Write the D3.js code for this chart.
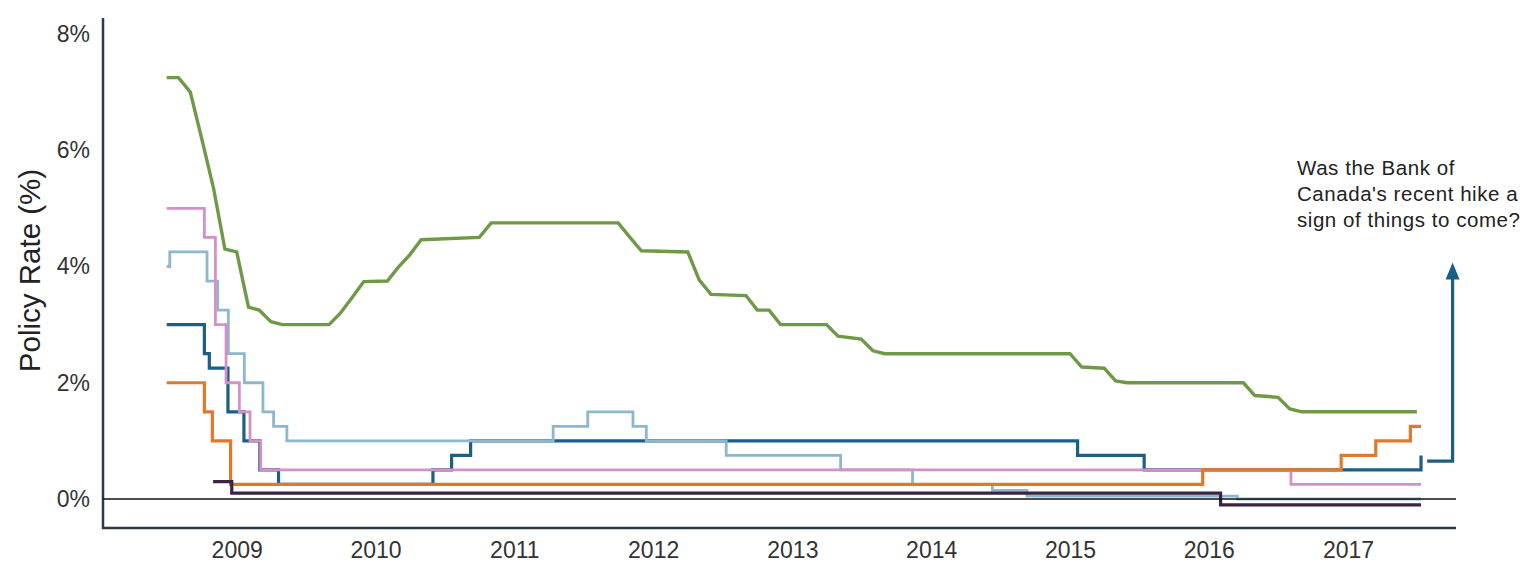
<!DOCTYPE html>
<html>
<head>
<meta charset="utf-8">
<script src="https://cdn.jsdelivr.net/npm/d3@7"></script>
<style>
  body { margin: 0; background: #fff; }
  svg { display: block; font-family: "Liberation Sans", Arial, sans-serif; }
</style>
</head>
<body>
<div id="chart"></div>
<script>
// tick labels
let years = [2009, 2010, 2011, 2012, 2013, 2014, 2015, 2016, 2017];
let rateTicks = [0, 2, 4, 6, 8];

// policy rates, [date of change, rate]; last entry closes the line
let australia = [ // monthly points, drawn straight between them
    ["2008-07-01", 7.25], ["2008-08-01", 7.25], ["2008-09-01", 7.0], ["2008-10-01", 6.2],
    ["2008-11-01", 5.35], ["2008-12-01", 4.3], ["2009-01-01", 4.25], ["2009-02-01", 3.3],
    ["2009-03-01", 3.25], ["2009-04-01", 3.05], ["2009-05-01", 3.0], ["2009-09-01", 3.0],
    ["2009-10-01", 3.2], ["2009-11-01", 3.47], ["2009-12-01", 3.74], ["2010-02-01", 3.75],
    ["2010-03-01", 3.98], ["2010-04-01", 4.2], ["2010-05-01", 4.46], ["2010-10-01", 4.5],
    ["2010-11-01", 4.75], ["2011-10-01", 4.75], ["2011-11-01", 4.5], ["2011-12-01", 4.27],
    ["2012-04-01", 4.25], ["2012-05-01", 3.77], ["2012-06-01", 3.52], ["2012-09-01", 3.5],
    ["2012-10-01", 3.25], ["2012-11-01", 3.25], ["2012-12-01", 3.0], ["2013-04-01", 3.0],
    ["2013-05-01", 2.8], ["2013-07-01", 2.75], ["2013-08-01", 2.55], ["2013-09-01", 2.5],
    ["2015-01-01", 2.5], ["2015-02-01", 2.27], ["2015-04-01", 2.25], ["2015-05-01", 2.03],
    ["2015-06-01", 2.0], ["2016-04-01", 2.0], ["2016-05-01", 1.78], ["2016-07-01", 1.75],
    ["2016-08-01", 1.55], ["2016-09-01", 1.5], ["2017-07-01", 1.5]
];
let canada = [
    ["2008-07-01", 3.0], ["2008-10-08", 2.5], ["2008-10-21", 2.25], ["2008-12-09", 1.5],
    ["2009-01-20", 1.0], ["2009-03-03", 0.5], ["2009-04-21", 0.25], ["2010-06-01", 0.5],
    ["2010-07-20", 0.75], ["2010-09-08", 1.0], ["2015-01-21", 0.75], ["2015-07-15", 0.5],
    ["2017-07-12", 0.75]
];
let ecb = [
    ["2008-07-01", 4.0], ["2008-07-09", 4.25], ["2008-10-15", 3.75], ["2008-11-12", 3.25],
    ["2008-12-10", 2.5], ["2009-01-21", 2.0], ["2009-03-11", 1.5], ["2009-04-08", 1.25],
    ["2009-05-13", 1.0], ["2011-04-13", 1.25], ["2011-07-13", 1.5], ["2011-11-09", 1.25],
    ["2011-12-14", 1.0], ["2012-07-11", 0.75], ["2013-05-08", 0.5], ["2013-11-13", 0.25],
    ["2014-06-11", 0.15], ["2014-09-10", 0.05], ["2016-03-16", 0.0], ["2017-07-12", 0.0]
];
let uk = [
    ["2008-07-01", 5.0], ["2008-10-08", 4.5], ["2008-11-06", 3.0], ["2008-12-04", 2.0],
    ["2009-01-08", 1.5], ["2009-02-05", 1.0], ["2009-03-05", 0.5], ["2016-08-04", 0.25],
    ["2017-07-12", 0.25]
];
let us = [
    ["2008-07-01", 2.0], ["2008-10-08", 1.5], ["2008-10-29", 1.0], ["2008-12-16", 0.25],
    ["2015-12-16", 0.5], ["2016-12-14", 0.75], ["2017-03-15", 1.0], ["2017-06-14", 1.25],
    ["2017-07-12", 1.25]
];
let japan = [
    ["2008-10-31", 0.3], ["2008-12-19", 0.1], ["2016-02-01", -0.1], ["2017-07-12", -0.1]
];

// annotation
let noteLines = ["Was the Bank of", "Canada's recent hike a", "sign of things to come?"];
let arrowFrom = "2017-07-28", arrowAt = "2017-10-03", arrowLow = 0.65, arrowHigh = 4.07;

let parse = d3.timeParse("%Y-%m-%d");

let width = 1525, height = 566;
let left = 103, bottom = 528, right = 1456;

let x = d3.scaleTime()
    .domain([new Date(2009, 0, 1), new Date(2017, 0, 1)])
    .range([236.7, 1348]);

let y = d3.scaleLinear()
    .domain([0, 8])
    .range([499, 34]);

let svg = d3.select("#chart")
    .append("svg")
    .attr("width", width)
    .attr("height", height)
    .attr("viewBox", [0, 0, width, height]);

// axes (no ticks, just labels)
let yAxis = svg.append("g")
    .attr("transform", `translate(${left},0)`)
    .call(d3.axisLeft(y).tickValues(rateTicks).tickFormat(d => d + "%").tickSize(0).tickPadding(13));
yAxis.select(".domain").remove();
yAxis.selectAll("text")
    .attr("font-size", 23)
    .attr("font-family", "Liberation Sans, Arial, sans-serif")
    .attr("fill", "#333");

let xAxis = svg.append("g")
    .attr("transform", `translate(0,${bottom})`)
    .call(d3.axisBottom(x).tickValues(years.map(d => new Date(d, 0, 1))).tickFormat(d3.timeFormat("%Y")).tickSize(0).tickPadding(14));
xAxis.select(".domain").remove();
xAxis.selectAll("text")
    .attr("font-size", 23)
    .attr("font-family", "Liberation Sans, Arial, sans-serif")
    .attr("fill", "#333");

svg.append("text")
    .attr("transform", `translate(40,${(y(8) + y(0)) / 2 + 4}) rotate(-90)`)
    .attr("text-anchor", "middle")
    .attr("font-size", 29.5)
    .attr("fill", "#222")
    .text("Policy Rate (%)");

// frame lines
svg.append("line")
    .attr("x1", left).attr("x2", left)
    .attr("y1", 18).attr("y2", bottom + 1)
    .attr("stroke", "#2c3b44").attr("stroke-width", 2.5);
svg.append("line")
    .attr("x1", left - 1).attr("x2", right)
    .attr("y1", bottom).attr("y2", bottom)
    .attr("stroke", "#2c3b44").attr("stroke-width", 2.5);

let step = d3.line()
    .x(d => x(parse(d[0])))
    .y(d => y(d[1]))
    .curve(d3.curveStepAfter);

let straight = d3.line()
    .x(d => x(parse(d[0])))
    .y(d => y(d[1]));

let series = [
    { data: canada, color: "#1b5e86", width: 3.2, line: step },
    { data: ecb, color: "#8db6cf", width: 2.8, line: step },
    { data: uk, color: "#d690c9", width: 2.8, line: step },
    { data: us, color: "#e1782b", width: 3.2, line: step },
    { data: japan, color: "#3b2342", width: 3.2, line: step },
    { data: australia, color: "#6e9a48", width: 3.4, line: straight }
];

svg.append("g")
    .attr("fill", "none")
    .attr("stroke-linejoin", "miter")
    .selectAll("path")
    .data(series)
    .join("path")
    .attr("stroke", d => d.color)
    .attr("stroke-width", d => d.width)
    .attr("d", d => d.line(d.data));

// zero line
svg.append("line")
    .attr("x1", left).attr("x2", right)
    .attr("y1", y(0)).attr("y2", y(0))
    .attr("stroke", "#111").attr("stroke-width", 1.6);

// arrow
let ax = x(parse(arrowAt));
svg.append("path")
    .attr("fill", "none")
    .attr("stroke", "#1b5e86")
    .attr("stroke-width", 3.2)
    .attr("d", d3.line()([
        [x(parse(arrowFrom)), y(arrowLow)],
        [ax, y(arrowLow)],
        [ax, y(arrowHigh) + 14]
    ]));
svg.append("path")
    .attr("fill", "#1b5e86")
    .attr("d", `M${ax},${y(arrowHigh)} L${ax + 7},${y(arrowHigh) + 17} L${ax - 7},${y(arrowHigh) + 17} Z`);

svg.append("text")
    .attr("x", 1297)
    .attr("y", 175)
    .attr("font-size", 20.5)
    .attr("letter-spacing", 0.55)
    .attr("fill", "#222")
    .selectAll("tspan")
    .data(noteLines)
    .join("tspan")
    .attr("x", 1297)
    .attr("dy", (d, i) => i === 0 ? 0 : 26)
    .text(d => d);
</script>
</body>
</html>
